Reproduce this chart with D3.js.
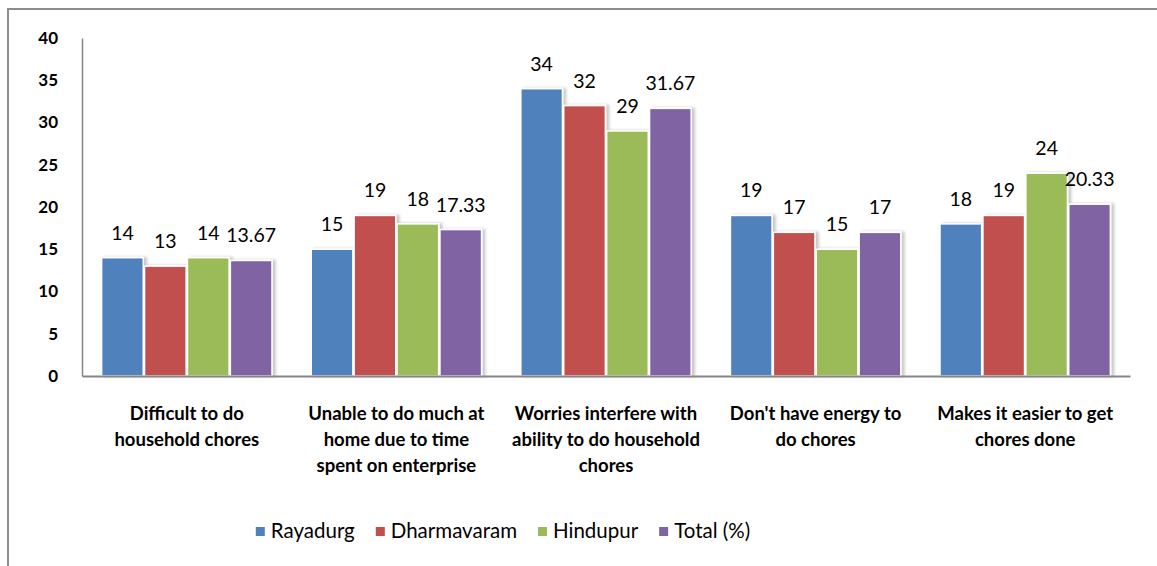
<!DOCTYPE html>
<html>
<head>
<meta charset="utf-8">
<script src="https://cdn.jsdelivr.net/npm/d3@7"></script>
<style>
  html, body { margin: 0; padding: 0; background: #fff; }
  svg { display: block; font-family: Lato, "Open Sans", sans-serif; }
</style>
</head>
<body>
<svg id="chart" width="1157" height="566"></svg>
<script>
// Daten
var categories = [
  "Difficult to do household chores",
  "Unable to do much at home due to time spent on enterprise",
  "Worries interfere with ability to do household chores",
  "Don't have energy to do chores",
  "Makes it easier to get chores done"
];
var categoryLines = [
  ["Difficult to do", "household chores"],
  ["Unable to do much at", "home due to time", "spent on enterprise"],
  ["Worries interfere with", "ability to do household", "chores"],
  ["Don't have energy to", "do chores"],
  ["Makes it easier to get", "chores done"]
];
var seriesNames = ["Rayadurg", "Dharmavaram", "Hindupur", "Total (%)"];
var rayadurg    = [14, 15, 34, 19, 18];
var dharmavaram = [13, 19, 32, 17, 19];
var hindupur    = [14, 18, 29, 15, 24];
var total       = [13.67, 17.33, 31.67, 17, 20.33];
var yTicks = [0, 5, 10, 15, 20, 25, 30, 35, 40];

var seriesValues = [rayadurg, dharmavaram, hindupur, total];
var colors = ["#4F81BD", "#C0504D", "#9BBB59", "#8064A2"];

var svg = d3.select("#chart");

// Rahmen (nur oben und links sichtbar)
svg.append("rect")
  .attr("x", 8).attr("y", 9)
  .attr("width", 1300).attr("height", 700)
  .attr("fill", "none")
  .attr("stroke", "#8c8c8c")
  .attr("stroke-width", 2);

// Schatten für Balken
var defs = svg.append("defs");
var filter = defs.append("filter").attr("id", "shadow")
  .attr("x", "-20%").attr("y", "-5%").attr("width", "150%").attr("height", "110%");
filter.append("feDropShadow")
  .attr("dx", 3).attr("dy", 0).attr("stdDeviation", 1.8)
  .attr("flood-color", "#000").attr("flood-opacity", 0.22);

var plotLeft = 82, plotRight = 1130, plotTop = 38, plotBottom = 376;

var x0 = d3.scaleBand()
  .domain(d3.range(categories.length))
  .range([plotLeft, plotRight])
  .paddingInner(0.175)
  .paddingOuter(0.0875);

var x1 = d3.scaleBand()
  .domain(d3.range(seriesNames.length))
  .range([0, x0.bandwidth()])
  .padding(0.03);

var y = d3.scaleLinear().domain([0, 40]).range([plotBottom, plotTop]);

// Balken
var data = [];
categories.forEach(function(c, ci) {
  seriesValues.forEach(function(vals, si) {
    data.push({ cat: ci, series: si, value: vals[ci] });
  });
});

var bars = svg.append("g");
bars.selectAll("rect")
  .data(data)
  .enter()
  .append("rect")
  .attr("x", d => x0(d.cat) + x1(d.series))
  .attr("y", d => y(d.value))
  .attr("width", x1.bandwidth())
  .attr("height", d => y(0) - y(d.value))
  .attr("fill", d => colors[d.series])
  .attr("stroke", "#fff")
  .attr("stroke-width", 1.5)
  .attr("filter", "url(#shadow)");

// Werte-Beschriftungen
svg.append("g").selectAll("text")
  .data(data)
  .enter()
  .append("text")
  .attr("x", d => x0(d.cat) + x1(d.series) + x1.bandwidth() / 2)
  .attr("y", d => y(d.value) - 18)
  .attr("text-anchor", "middle")
  .style("font-size", "19.5px")
  .style("fill", "#000")
  .text(d => d.value);

// Y-Achse
var yAxis = svg.append("g")
  .attr("transform", "translate(" + plotLeft + ",0)")
  .call(d3.axisLeft(y).tickValues(yTicks).tickSize(0).tickSizeOuter(0).tickPadding(24));
yAxis.select(".domain").attr("stroke", "#868686").attr("stroke-width", 1.5);
yAxis.selectAll("text")
  .style("font-family", "Lato, sans-serif")
  .style("font-size", "17px")
  .style("font-weight", "bold")
  .style("fill", "#000");

// X-Achse
var xAxis = svg.append("g")
  .attr("transform", "translate(0," + plotBottom + ")")
  .call(d3.axisBottom(x0).tickSize(0).tickSizeOuter(0).tickFormat(""));
xAxis.select(".domain").attr("stroke", "#868686").attr("stroke-width", 2);

// Kategorien-Beschriftungen
var catLabels = svg.append("g").selectAll("text")
  .data(categoryLines)
  .enter()
  .append("text")
  .attr("x", (d, i) => x0(i) + x0.bandwidth() / 2)
  .attr("y", 420)
  .attr("text-anchor", "middle")
  .style("font-size", "18.5px")
  .style("font-weight", "bold")
  .style("fill", "#000");
catLabels.selectAll("tspan")
  .data(d => d)
  .enter()
  .append("tspan")
  .attr("x", function() { return d3.select(this.parentNode).attr("x"); })
  .attr("dy", (d, i) => i === 0 ? 0 : 26)
  .text(d => d);

// Legende
var legend = svg.append("g");
var items = legend.selectAll("g")
  .data(seriesNames)
  .enter()
  .append("g");
items.append("rect")
  .attr("width", 9).attr("height", 9)
  .attr("y", 527)
  .attr("fill", (d, i) => colors[i]);
items.append("text")
  .attr("x", 15)
  .attr("y", 538)
  .style("font-size", "20.5px")
  .style("fill", "#000")
  .text(d => d);

var gap = 21;
var pos = 0, offsets = [];
items.each(function() {
  offsets.push(pos);
  var w = d3.select(this).select("text").node().getComputedTextLength();
  pos += 15 + w + gap;
});
var legendWidth = pos - gap;
var legendStart = 503 - legendWidth / 2;
items.attr("transform", (d, i) => "translate(" + (legendStart + offsets[i]) + ",0)");
</script>
</body>
</html>
